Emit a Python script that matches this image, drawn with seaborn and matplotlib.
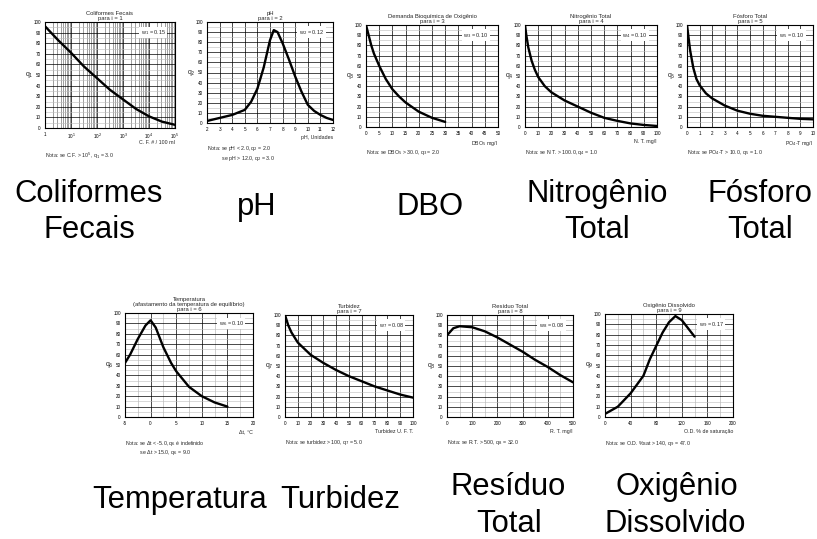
import matplotlib
matplotlib.use("Agg")
import matplotlib.pyplot as plt
import seaborn as sns
import numpy as np

sns.set_theme(style="white")
plt.rcParams['font.family'] = ['Liberation Sans', 'DejaVu Sans']

# ---------------- data ----------------
cf_x = [1, 3.16, 10, 31.6, 100, 316, 1000, 3162, 10000, 31623, 100000]
cf_q = [96, 83, 71, 58, 47, 36, 27, 18, 11, 6, 3]

ph_x = [2, 3, 4, 5, 5.5, 6, 6.5, 7, 7.3, 7.6, 8, 8.5, 9, 9.5, 10, 10.5, 11, 11.5, 12]
ph_q = [2, 5, 8, 13, 21, 34, 55, 82, 92, 90, 79, 63, 46, 31, 18, 12, 8, 5, 3]

dbo_x = [0, 1, 2, 3, 5, 7.5, 10, 12.5, 15, 20, 25, 30]
dbo_q = [100, 90, 80, 72, 60, 47, 37, 30, 24, 15, 9, 5]

nt_x = [0, 1, 2.5, 5, 7.5, 10, 15, 20, 30, 40, 50, 60, 70, 80, 90, 100]
nt_q = [100, 90, 78, 65, 56, 49, 40, 34, 26, 20, 14, 9, 6, 3.5, 2, 1]

pt_x = [0, 0.1, 0.25, 0.5, 0.75, 1, 1.5, 2, 3, 4, 5, 6, 7, 8, 9, 10]
pt_q = [100, 90, 75, 58, 47, 41, 33, 28, 21, 16, 13, 11, 10, 9, 8, 7.5]

tmp_x = [-5, -4, -2.5, -1, 0, 1, 2.5, 4, 5, 7.5, 10, 12.5, 15]
tmp_q = [52, 60, 75, 88, 93, 86, 67, 52, 44, 29, 20, 14, 10]

tur_x = [0, 2.5, 5, 10, 20, 30, 40, 50, 60, 70, 80, 90, 100]
tur_q = [100, 90, 83, 73, 61, 53, 46, 40, 35, 30, 26, 22, 19]

rt_x = [0, 25, 50, 100, 150, 200, 250, 300, 350, 400, 450, 500]
rt_q = [80, 87, 89, 88, 84, 78, 71, 64, 56, 49, 41, 34]

od_x = [0, 20, 40, 60, 70, 80, 90, 100, 110, 120, 130, 140]
od_q = [3, 10, 23, 40, 56, 69, 82, 92, 98, 94, 86, 78]

y_ticks = [0, 10, 20, 30, 40, 50, 60, 70, 80, 90, 100]

W, H = 817, 539
fig = plt.figure(figsize=(W / 100, H / 100), dpi=100)
fig.patch.set_facecolor('white')


def add_ax(x0, y0, x1, y1):
    return fig.add_axes([x0 / W, 1 - y1 / H, (x1 - x0) / W, (y1 - y0) / H])


def panel(box, xs, qs, xlim, xticks, xticklabels, qname, title, xlabel, note,
          wtext, log=False, xminor=None):
    ax = add_ax(*box)
    sns.lineplot(x=xs, y=qs, ax=ax, color='black', lw=1.7)
    if log:
        ax.set_xscale('log')
    ax.set_xlim(*xlim)
    ax.set_ylim(0, 100)
    ax.set_xticks(xticks)
    ax.set_xticklabels(xticklabels)
    ax.set_yticks(y_ticks)
    ax.set_yticklabels([str(v) for v in y_ticks])
    ax.tick_params(labelsize=3.3, length=1.5, width=0.5, pad=1.5, colors='black')
    if log:
        ax.xaxis.set_minor_locator(matplotlib.ticker.LogLocator(base=10, subs=np.arange(2, 10)))
        ax.xaxis.set_minor_formatter(matplotlib.ticker.NullFormatter())
        ax.grid(True, which='minor', axis='x', color='#555555', lw=0.4)
    else:
        if xminor is not None:
            ax.set_xticks(xminor, minor=True)
            ax.grid(True, which='minor', axis='x', color='#aaaaaa', lw=0.4)
    ax.set_yticks([5, 15, 25, 35, 45, 55, 65, 75, 85, 95], minor=True)
    ax.grid(True, which='minor', axis='y', color='#bbbbbb', lw=0.4)
    ax.grid(True, which='major', color='black', lw=0.5)
    ax.tick_params(which='minor', length=0)
    for s in ax.spines.values():
        s.set_color('black')
        s.set_linewidth(0.8)
    ax.set_ylabel(qname, fontsize=5, rotation=0, labelpad=3, va='center')
    ax.set_xlabel('')
    ax.set_title(title, fontsize=4.2, pad=1.5, linespacing=1.0)
    ax.text(1.0, -0.115, xlabel, transform=ax.transAxes, fontsize=3.8,
            ha='right', va='top')
    ax.text(0.0, -0.21, note, transform=ax.transAxes, fontsize=3.8,
            ha='left', va='top', linespacing=1.1)
    ax.text(0.93, 0.90, wtext, transform=ax.transAxes, fontsize=4,
            ha='right', va='center',
            bbox=dict(facecolor='white', edgecolor='none', pad=1.0))
    return ax


panel((45, 22, 175, 128), cf_x, cf_q, (1, 1e5), [1, 10, 100, 1e3, 1e4, 1e5],
      ['1', '10$^1$', '10$^2$', '10$^3$', '10$^4$', '10$^5$'], 'q$_1$',
      'Coliformes Fecais\npara i = 1', 'C. F. # / 100 ml',
      'Nota: se C.F. > 10$^5$, q$_1$ = 3.0', 'w$_1$ = 0.15', log=True)

panel((207, 22, 333, 123), ph_x, ph_q, (2, 12), list(range(2, 13)),
      [str(v) for v in range(2, 13)], 'q$_2$', 'pH\npara i = 2', 'pH, Unidades',
      'Nota: se pH < 2.0, q$_2$ = 2.0\n          se pH > 12.0, q$_2$ = 3.0',
      'w$_2$ = 0.12')

panel((366, 25, 498, 127), dbo_x, dbo_q, (0, 50), list(range(0, 51, 5)),
      [str(v) for v in range(0, 51, 5)], 'q$_3$',
      'Demanda Bioquímica de Oxigênio\npara i = 3', 'DBO$_5$ mg/l',
      'Nota: se DBO$_5$ > 30.0, q$_3$ = 2.0', 'w$_3$ = 0.10')

panel((525, 25, 657, 127), nt_x, nt_q, (0, 100), list(range(0, 101, 10)),
      [str(v) for v in range(0, 101, 10)], 'q$_4$',
      'Nitrogênio Total\npara i = 4', 'N. T. mg/l',
      'Nota: se N.T. > 100.0, q$_4$ = 1.0', 'w$_4$ = 0.10')

panel((687, 25, 813, 127), pt_x, pt_q, (0, 10), list(range(0, 11)),
      [str(v) for v in range(0, 11)], 'q$_5$',
      'Fósforo Total\npara i = 5', 'PO$_4$-T mg/l',
      'Nota: se PO$_4$-T > 10.0, q$_5$ = 1.0', 'w$_5$ = 0.10')

panel((125, 313, 253, 417), tmp_x, tmp_q, (-5, 20), [-5, 0, 5, 10, 15, 20],
      ['-5', '0', '5', '10', '15', '20'], 'q$_6$',
      'Temperatura\n(afastamento da temperatura de equilíbrio)\npara i = 6',
      'Δt, °C',
      'Nota: se Δt < -5.0, q$_6$ é indefinido\n          se Δt > 15.0, q$_6$ = 9.0',
      'w$_6$ = 0.10', xminor=[-2.5, 2.5, 7.5, 12.5, 17.5])

panel((285, 315, 413, 417), tur_x, tur_q, (0, 100), list(range(0, 101, 10)),
      [str(v) for v in range(0, 101, 10)], 'q$_7$',
      'Turbidez\npara i = 7', 'Turbidez U. F. T.',
      'Nota: se turbidez > 100, q$_7$ = 5.0', 'w$_7$ = 0.08')

panel((447, 315, 573, 417), rt_x, rt_q, (0, 500), list(range(0, 501, 100)),
      [str(v) for v in range(0, 501, 100)], 'q$_8$',
      'Resíduo Total\npara i = 8', 'R. T. mg/l',
      'Nota: se R.T. > 500, q$_8$ = 32.0', 'w$_8$ = 0.08',
      xminor=[50, 150, 250, 350, 450])

panel((605, 314, 733, 417), od_x, od_q, (0, 200), [0, 40, 80, 120, 160, 200],
      ['0', '40', '80', '120', '160', '200'], 'q$_9$',
      'Oxigênio Dissolvido\npara i = 9', 'O.D. % de saturação',
      'Nota: se O.D. %sat > 140, q$_9$ = 47.0', 'w$_9$ = 0.17',
      xminor=[20, 60, 100, 140, 180])

# big labels: (text, x centre, baseline y) in pixels
labels = [
    ('Coliformes', 89, 202), ('Fecais', 89, 238),
    ('pH', 257, 215),
    ('DBO', 430, 215),
    ('Nitrogênio', 597, 202), ('Total', 597, 238),
    ('Fósforo', 760, 202), ('Total', 760, 238),
    ('Temperatura', 180, 508),
    ('Turbidez', 340, 508),
    ('Resíduo', 508, 495), ('Total', 509, 532),
    ('Oxigênio', 677, 495), ('Dissolvido', 675, 532),
]
for txt, x, y in labels:
    fig.text(x / W, 1 - y / H, txt, fontsize=22.3, ha='center', va='baseline',
             color='black')

fig.savefig('out.png', dpi=100, facecolor='white')
